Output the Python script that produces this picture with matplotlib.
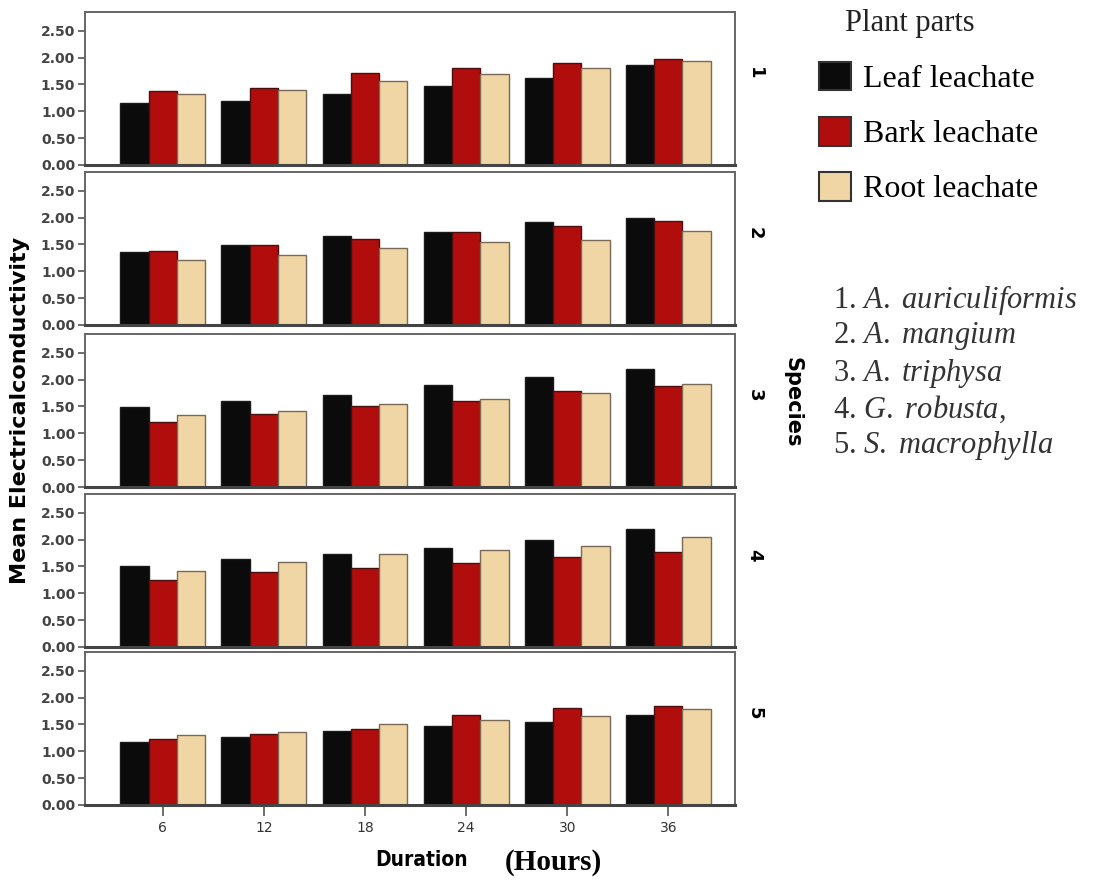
import numpy as np
import matplotlib.pyplot as plt
from matplotlib.patches import Patch

plt.rcParams['mathtext.fontset'] = 'custom'
plt.rcParams['mathtext.it'] = 'Liberation Serif:italic'
plt.rcParams['mathtext.rm'] = 'Liberation Serif'

durations = ['6', '12', '18', '24', '30', '36']
parts = ['Leaf leachate', 'Bark leachate', 'Root leachate']
species_ids = ['1', '2', '3', '4', '5']
species_names = ['A. auriculiformis', 'A. mangium', 'A. triphysa', 'G. robusta,', 'S. macrophylla']

# mean EC per species: leaf, bark, root over the 6 durations
sp1_leaf = [1.16, 1.20, 1.33, 1.47, 1.62, 1.87]
sp1_bark = [1.38, 1.43, 1.72, 1.81, 1.90, 1.97]
sp1_root = [1.33, 1.40, 1.56, 1.69, 1.81, 1.94]

sp2_leaf = [1.36, 1.49, 1.66, 1.74, 1.91, 2.00]
sp2_bark = [1.37, 1.49, 1.60, 1.74, 1.85, 1.94]
sp2_root = [1.22, 1.31, 1.43, 1.54, 1.58, 1.75]

sp3_leaf = [1.49, 1.61, 1.71, 1.90, 2.04, 2.20]
sp3_bark = [1.22, 1.36, 1.51, 1.61, 1.78, 1.88]
sp3_root = [1.34, 1.41, 1.55, 1.64, 1.76, 1.91]

sp4_leaf = [1.50, 1.64, 1.74, 1.85, 2.00, 2.19]
sp4_bark = [1.25, 1.40, 1.48, 1.57, 1.67, 1.77]
sp4_root = [1.42, 1.58, 1.74, 1.80, 1.88, 2.05]

sp5_leaf = [1.17, 1.27, 1.37, 1.47, 1.55, 1.68]
sp5_bark = [1.23, 1.32, 1.42, 1.67, 1.80, 1.85]
sp5_root = [1.30, 1.36, 1.50, 1.58, 1.66, 1.79]

data = [
    (sp1_leaf, sp1_bark, sp1_root),
    (sp2_leaf, sp2_bark, sp2_root),
    (sp3_leaf, sp3_bark, sp3_root),
    (sp4_leaf, sp4_bark, sp4_root),
    (sp5_leaf, sp5_bark, sp5_root),
]

colors = ['#0b0b0b', '#b20d0d', '#f0d6a4']
edges = ['#1a1a1a', '#4a1010', '#7a6a55']
W, H = 1094, 886

fig = plt.figure(figsize=(10.94, 8.86), dpi=100)

x = np.arange(len(durations))
bw = 0.28
tops = [12, 172, 334, 494, 652]
for i, (leaf, bark, root) in enumerate(data):
    top = tops[i]
    ax = fig.add_axes([85 / W, 1 - (top + 153) / H, 650 / W, 153 / H])
    for j, vals in enumerate([leaf, bark, root]):
        ax.bar(x + (j - 1) * bw, vals, width=bw, color=colors[j],
               edgecolor=edges[j], linewidth=1.0)
    ax.set_xlim(-0.77, 5.66)
    ax.set_ylim(0, 2.85)
    ax.set_yticks([0, 0.5, 1.0, 1.5, 2.0, 2.5])
    ax.set_yticklabels(['0.00', '0.50', '1.00', '1.50', '2.00', '2.50'],
                       fontsize=10, color='#444444', fontweight='bold')
    ax.tick_params(axis='y', length=5, width=1.2, color='#555555', pad=2)
    for s in ax.spines.values():
        s.set_color('#666666')
        s.set_linewidth(1.4)
    ax.spines['bottom'].set_color('#444444')
    ax.spines['bottom'].set_linewidth(2.2)
    ax.text(1.03, 0.6, species_ids[i], transform=ax.transAxes, rotation=-90,
            fontsize=13, fontweight='bold', ha='center', va='center')
    if i < 4:
        ax.set_xticks([])
    else:
        ax.set_xticks(x)
        ax.set_xticklabels(durations, fontsize=10, color='#333333')
        ax.tick_params(axis='x', length=8, width=1.2, color='#555555')

fig.text(20 / W, 1 - 410 / H, 'Mean Electricalconductivity', rotation=90,
         fontsize=16, fontweight='bold', ha='center', va='center')
fig.text(792 / W, 1 - 402 / H, 'Species', rotation=-90,
         fontsize=15, fontweight='bold', ha='center', va='center')
fig.text(422 / W, 1 - 860 / H, 'Duration', fontsize=15, fontweight='bold',
         ha='center', va='center', fontstretch='condensed')
fig.text(553 / W, 1 - 862 / H, '(Hours)', fontsize=21, fontweight='bold',
         family='Liberation Serif', ha='center', va='center')

# legend
fig.text(845 / W, 1 - 23 / H, 'Plant parts', fontsize=22, family='Liberation Serif',
         ha='left', va='center', color='#222222')
handles = [Patch(facecolor=colors[k], edgecolor='#333333', linewidth=1.5) for k in range(3)]
fig.legend(handles, parts, loc='upper left', bbox_to_anchor=(790 / W, 1 - 33 / H),
           frameon=False, handlelength=1.0, handleheight=1.0,
           labelspacing=0.72, handletextpad=0.37, borderpad=0.4,
           prop={'family': 'Liberation Serif', 'size': 23})

for k, name in enumerate(species_names):
    label = name.replace(' ', '\\ ')
    fig.text(833 / W, 1 - (300 + k * 36.5) / H, f'{k + 1}. $\\mathit{{{label}}}$',
             fontsize=22, family='Liberation Serif', va='center', ha='left', color='#333333')

fig.savefig('out.png', dpi=100)
